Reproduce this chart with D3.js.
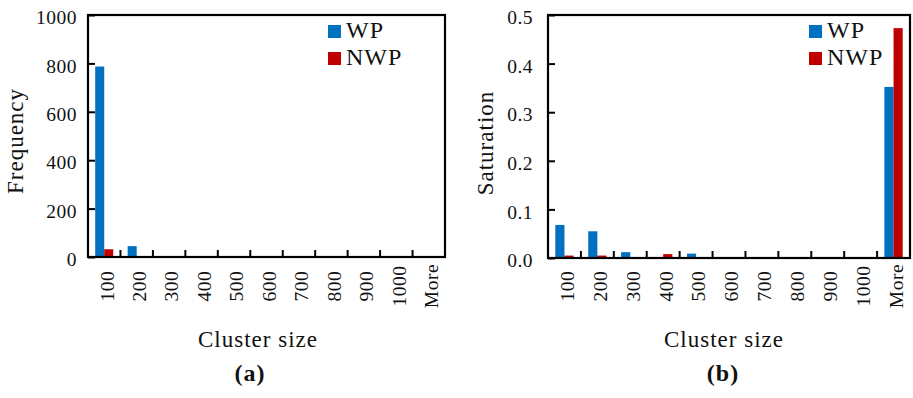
<!DOCTYPE html>
<html>
<head>
<meta charset="utf-8">
<script src="https://cdn.jsdelivr.net/npm/d3@7"></script>
<style>
    body { margin: 0; background: #fff; }
    text { font-family: "Liberation Serif", serif; fill: #111; }
</style>
</head>
<body>
<div id="app"></div>
<script>
// ----- Data -----
const categories = ["100", "200", "300", "400", "500", "600", "700", "800", "900", "1000", "More"];
const seriesNames = ["WP", "NWP"];
const seriesColors = ["#0070C0", "#C00000"];

// (a) frequency
const freqWP  = [787, 45, 0, 0, 0, 0, 0, 0, 0, 0, 0];
const freqNWP = [32, 0, 0, 0, 0, 0, 0, 0, 0, 0, 0];
const freqTicks = [0, 200, 400, 600, 800, 1000];

// (b) saturation
const satWP  = [0.068, 0.055, 0.012, 0, 0.009, 0, 0, 0, 0, 0, 0.352];
const satNWP = [0.005, 0.005, 0, 0.008, 0, 0, 0, 0, 0, 0, 0.473];
const satTicks = [0, 0.1, 0.2, 0.3, 0.4, 0.5];

const W = 913, H = 398;

const svg = d3.select("#app").append("svg")
    .attr("width", W)
    .attr("height", H);

function drawChart(o) {
    const g = svg.append("g");

    const x = d3.scaleBand()
        .domain(categories)
        .range([o.left, o.right])
        .padding(0);

    const xSub = d3.scaleBand()
        .domain(seriesNames)
        .range([0, x.bandwidth()])
        .paddingInner(0)
        .paddingOuter(0.8);

    const y = d3.scaleLinear()
        .domain([0, d3.max(o.ticks)])
        .range([o.bottom, o.top]);

    const rows = categories.map((c, i) => ({ cat: c, vals: [o.wp[i], o.nwp[i]] }));

    // bars
    g.selectAll(".grp")
        .data(rows)
        .enter()
        .append("g")
            .attr("transform", d => `translate(${x(d.cat)},0)`)
        .selectAll("rect")
        .data(d => d.vals.map((v, k) => ({ s: seriesNames[k], v: v, k: k })))
        .enter()
        .append("rect")
            .attr("x", d => xSub(d.s))
            .attr("width", xSub.bandwidth())
            .attr("y", d => y(d.v))
            .attr("height", d => o.bottom - y(d.v))
            .attr("fill", d => seriesColors[d.k]);

    // y axis, ticks inward
    const yAxis = d3.axisLeft(y)
        .tickValues(o.ticks)
        .tickSize(-7)
        .tickPadding(o.labelGap)
        .tickFormat(d3.format(o.fmt));
    const ya = g.append("g")
        .attr("transform", `translate(${o.left},0)`)
        .call(yAxis);
    ya.select(".domain").remove();
    ya.selectAll(".tick line").attr("stroke", "#000").attr("stroke-width", 2);
    ya.selectAll(".tick text")
        .attr("font-family", "Liberation Serif")
        .attr("font-size", 19.5)
        .attr("letter-spacing", 0.5)
        .attr("dy", "0.45em")
        .attr("fill", "#111");

    // category boundary ticks on x axis
    g.selectAll(".xtick")
        .data(categories.slice(1))
        .enter()
        .append("line")
            .attr("x1", d => x(d))
            .attr("x2", d => x(d))
            .attr("y1", o.bottom)
            .attr("y2", o.bottom - 7)
            .attr("stroke", "#000")
            .attr("stroke-width", 2);

    // x labels, rotated
    g.selectAll(".xlab")
        .data(categories)
        .enter()
        .append("text")
            .attr("transform", d => `translate(${x(d) + x.bandwidth() / 2 + 2.5},286) rotate(-90)`)
            .attr("text-anchor", "middle")
            .attr("dy", "0.35em")
            .attr("font-size", 19.5)
            .attr("letter-spacing", 0.5)
            .text(d => d);

    // frame
    g.append("rect")
        .attr("x", o.left)
        .attr("y", o.top)
        .attr("width", o.right - o.left)
        .attr("height", o.bottom - o.top)
        .attr("fill", "none")
        .attr("stroke", "#000")
        .attr("stroke-width", 2.2);

    // axis titles
    g.append("text")
        .attr("x", o.xTitleX)
        .attr("y", 347)
        .attr("text-anchor", "middle")
        .attr("font-size", 23)
        .attr("letter-spacing", 1)
        .text("Cluster size");

    g.append("text")
        .attr("transform", `translate(${o.yTitleX},${o.yTitleY}) rotate(-90)`)
        .attr("text-anchor", "middle")
        .attr("font-size", 23)
        .attr("letter-spacing", 1)
        .text(o.yTitle);

    // legend
    const leg = g.selectAll(".leg")
        .data(seriesNames)
        .enter()
        .append("g")
            .attr("transform", (d, i) => `translate(${o.legX},${25 + i * 27})`);
    leg.append("rect")
        .attr("width", 13)
        .attr("height", 13)
        .attr("fill", (d, i) => seriesColors[i]);
    leg.append("text")
        .attr("x", 18)
        .attr("y", 12.5)
        .attr("font-size", 24)
        .attr("letter-spacing", 1)
        .text(d => d);

    // caption
    g.append("text")
        .attr("x", o.capX)
        .attr("y", 381)
        .attr("text-anchor", "middle")
        .attr("font-size", 24)
        .attr("font-weight", "bold")
        .attr("letter-spacing", 1)
        .text(o.caption);
}

drawChart({
    left: 88, right: 445, top: 15, bottom: 257,
    wp: freqWP, nwp: freqNWP, ticks: freqTicks, fmt: "d",
    labelGap: 11, yTitle: "Frequency", yTitleX: 23, yTitleY: 141,
    xTitleX: 258, legX: 328, capX: 250, caption: "(a)"
});

drawChart({
    left: 548, right: 910, top: 15, bottom: 258,
    wp: satWP, nwp: satNWP, ticks: satTicks, fmt: ".1f",
    labelGap: 15, yTitle: "Saturation", yTitleX: 493, yTitleY: 143,
    xTitleX: 724, legX: 809, capX: 723, caption: "(b)"
});
</script>
</body>
</html>
